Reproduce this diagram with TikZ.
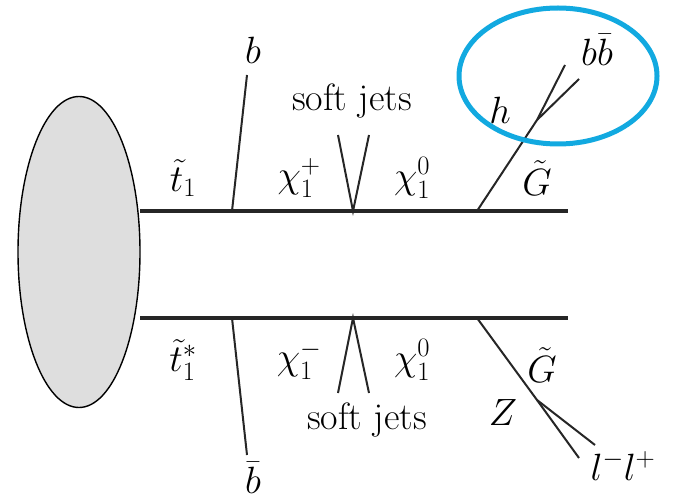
\RequirePackage{fix-cm}
\documentclass[tikz,border=0pt]{standalone}
\usetikzlibrary{shapes.geometric}
\begin{document}
\begin{tikzpicture}[x=1pt,y=-1pt,
  thick line/.style={line width=3.3pt,black!85},
  thin line/.style={line width=2pt,black!85},
  lab/.style={inner sep=0pt,font=\fontsize{38}{40}\selectfont},
  jets/.style={inner sep=0pt,font=\fontsize{38}{40}\selectfont}]
\useasboundingbox (0,0) rectangle (679,502);
% blob
\node[draw=black,line width=1.4pt,fill=black!13,ellipse,minimum width=122pt,minimum height=311pt,inner sep=0pt] (blob) at (79,252) {};
% vertices
\coordinate (u0) at (140,211);
\coordinate (ub) at (232,211);
\coordinate (uv) at (353,211);
\coordinate (ug) at (477,211);
\coordinate (ue) at (568,211);
\coordinate (l0) at (140,318);
\coordinate (lb) at (232,318);
\coordinate (lv) at (353,318);
\coordinate (lg) at (477,318);
\coordinate (le) at (568,318);
\coordinate (bt) at (247,75);
\coordinate (bbt) at (247,455);
\coordinate (j1) at (338,135);
\coordinate (j2) at (369,135);
\coordinate (j3) at (338,393);
\coordinate (j4) at (369,393);
\coordinate (hv) at (537,120);
\coordinate (hb1) at (565,65);
\coordinate (hb2) at (579,79);
\coordinate (zv) at (537,400);
\coordinate (zl1) at (579,458);
\coordinate (zl2) at (595,445);
% main lines
\draw[thick line] (u0) -- (ue);
\draw[thick line] (l0) -- (le);
% decays
\draw[thin line] (ub) -- (bt);
\draw[thin line] (lb) -- (bbt);
\draw[thin line] (j1) -- (uv) -- (j2);
\draw[thin line] (j3) -- (lv) -- (j4);
\draw[thin line] (ug) -- (hv) -- (hb1);
\draw[thin line] (hv) -- (hb2);
\draw[thin line] (lg) -- (zv) -- (zl1);
\draw[thin line] (zv) -- (zl2);
% labels
\node[lab] (lb1) at (253,50) {$b$};
\node[lab] (lt1) at (183,178) {$\tilde t_1$};
\node[lab] (lc1) at (299,178) {$\chi_1^+$};
\node[lab] (ln1) at (412,178) {$\chi_1^0$};
\node[jets] (js1) at (352,101) {soft jets};
\node[lab] (lh) at (500,110) {$h$};
\node[lab] (lg1) at (537,178) {$\tilde G$};
\node[lab] (lbb) at (597,50) {$b\bar b$};
\node[lab] (lb2) at (253,478) {$\bar b$};
\node[lab] (lt2) at (183,360) {$\tilde t_1^*$};
\node[lab] (lc2) at (299,360) {$\chi_1^-$};
\node[lab] (ln2) at (412,360) {$\chi_1^0$};
\node[jets] (js2) at (367,420) {soft jets};
\node[lab] (lg2) at (542,365) {$\tilde G$};
\node[lab] (lz) at (503,413) {$Z$};
\node[lab] (ll) at (623,466) {$l^-l^+$};
% highlight
\draw[line width=5pt,color={rgb,255:red,18;green,169;blue,224}] (558,76) ellipse [x radius=99pt,y radius=68pt];
\end{tikzpicture}
\end{document}
